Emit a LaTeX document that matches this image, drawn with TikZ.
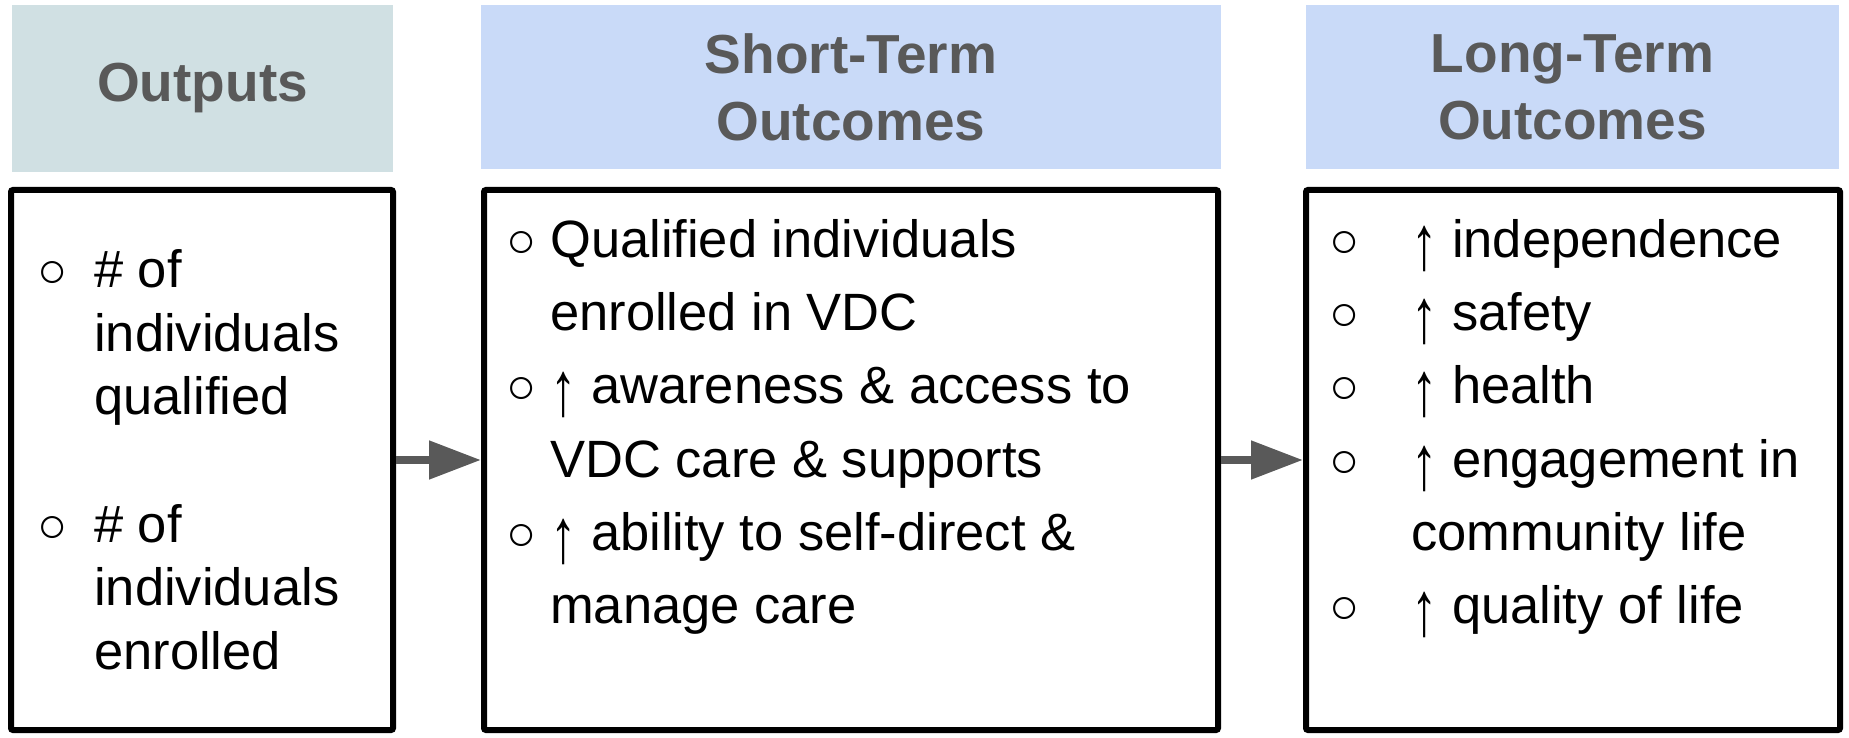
\documentclass[tikz,border=0pt]{standalone}
\usepackage{fontspec}
\usepackage{graphicx}
\setmainfont{Liberation Sans}
\usetikzlibrary{arrows.meta}
\definecolor{hdrgray}{HTML}{595959}
\definecolor{outfill}{HTML}{D0E0E3}
\definecolor{outcfill}{HTML}{C9DAF8}
\newcommand\uparr{\smash{\raisebox{-12pt}{\scalebox{1}[1.47]{↑}}}}
\tikzset{
  hdr/.style={fill=#1, text=hdrgray, font=\fontsize{55}{67}\selectfont\bfseries, align=center, inner sep=0pt},
  panel/.style={draw=black, line width=6pt, rounded corners=2pt, minimum height=540pt, inner sep=0pt},
  txt/.style={anchor=base west, inner sep=0pt, font=\fontsize{52.5}{63}\selectfont},
  bul/.style={anchor=base, inner sep=0pt, font=\fontsize{50}{50}\selectfont},
  flow/.style={draw=hdrgray, line width=8pt, -{Triangle[length=52pt,width=37pt]}}
}
\begin{document}
\begin{tikzpicture}[x=1pt,y=1pt]
  \useasboundingbox (0,0) rectangle (1849,737);
  % headers
  \path (202.5,648.5) node[hdr=outfill, minimum width=381pt, minimum height=167pt] (h1) {Outputs};
  \path (851,650) node[hdr=outcfill, minimum width=740pt, minimum height=164pt] (h2) {Short-Term\\Outcomes};
  \path (1572.5,650) node[hdr=outcfill, minimum width=533pt, minimum height=164pt] (h3) {Long-Term\\Outcomes};

  % boxes
  \path (202,277) node[panel, minimum width=382pt] (b1) {};
  \path (851,277) node[panel, minimum width=734pt] (b2) {};
  \path (1573,277) node[panel, minimum width=534pt] (b3) {};

  % outputs
  \path (53,449) node[bul] (b1d1) {○};
  \path (94,449) node[txt] (b1t1) {\# of};
  \path (94,385.5) node[txt] (b1t2) {individuals};
  \path (94,322) node[txt] (b1t3) {qualified};
  \path (53,195) node[bul] (b1d2) {○};
  \path (94,195) node[txt] (b1t4) {\# of};
  \path (94,131.5) node[txt] (b1t5) {individuals};
  \path (94,68) node[txt] (b1t6) {enrolled};

  % short-term
  \path (522,479) node[bul] (b2d1) {○};
  \path (550,479) node[txt] (b2t1) {Qualified individuals};
  \path (550,406) node[txt] (b2t2) {enrolled in VDC};
  \path (522,333) node[bul] (b2d2) {○};
  \path (550,333) node[txt] (b2t3) {\uparr{} awareness \& access to};
  \path (550,260) node[txt] (b2t4) {VDC care \& supports};
  \path (522,187) node[bul] (b2d3) {○};
  \path (550,187) node[txt] (b2t5) {\uparr{} ability to self-direct \&};
  \path (550,114) node[txt] (b2t6) {manage care};

  % long-term
  \path (1345,479) node[bul] (b3d1) {○};
  \path (1411,479) node[txt] (b3t1) {\uparr{} independence};
  \path (1345,406) node[bul] (b3d2) {○};
  \path (1411,406) node[txt] (b3t2) {\uparr{} safety};
  \path (1345,333) node[bul] (b3d3) {○};
  \path (1411,333) node[txt] (b3t3) {\uparr{} health};
  \path (1345,260) node[bul] (b3d4) {○};
  \path (1411,260) node[txt] (b3t4) {\uparr{} engagement in};
  \path (1411,187) node[txt] (b3t5) {community life};
  \path (1345,114) node[bul] (b3d5) {○};
  \path (1411,114) node[txt] (b3t6) {\uparr{} quality of life};

  \draw[flow] (b1) -- (b2);
  \draw[flow] (b2) -- (b3);
\end{tikzpicture}
\end{document}
